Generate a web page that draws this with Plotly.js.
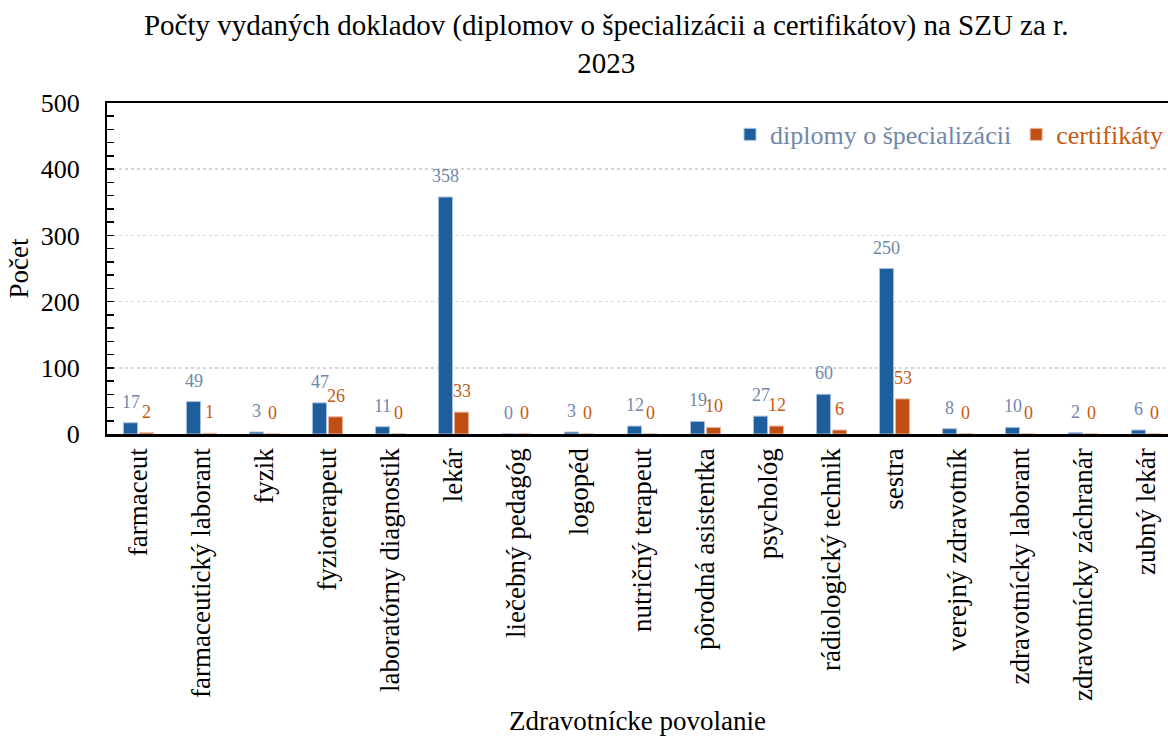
<!DOCTYPE html>
<html>
<head>
<meta charset="utf-8">
<script src="https://cdn.plot.ly/plotly-3.0.1.min.js"></script>
<style>html,body{margin:0;padding:0;background:#fff}#chart{width:1168px;height:736px}</style>
</head>
<body>
<div id="chart"></div>
<script>
const categories = ["farmaceut","farmaceutický laborant","fyzik","fyzioterapeut","laboratórny diagnostik","lekár","liečebný pedagóg","logopéd","nutričný terapeut","pôrodná asistentka","psychológ","rádiologický technik","sestra","verejný zdravotník","zdravotnícky laborant","zdravotnícky záchranár","zubný lekár"];
const diplomy = [17,49,3,47,11,358,0,3,12,19,27,60,250,8,10,2,6];
const certifikaty = [2,1,0,26,0,33,0,0,0,10,12,6,53,0,0,0,0];
const seriesNames = ["diplomy o špecializácii","certifikáty"];
const yTicks = [0,100,200,300,400,500];

const FONT = "Liberation Serif, Times New Roman, serif";
const BLUE = "#1F5E9C", ORANGE = "#C04F15";
const BLUE_TXT = "#7187AA", ORANGE_TXT = "#C55A11";

const traces = [
  {type:'bar', x:categories, y:diplomy,
   name:'<span style="color:'+BLUE_TXT+'">'+seriesNames[0]+'</span>',
   marker:{color:BLUE, line:{color:'#a9c2df', width:1}}, hoverinfo:'x+y'},
  {type:'bar', x:categories, y:certifikaty,
   name:'<span style="color:'+ORANGE_TXT+'">'+seriesNames[1]+'</span>',
   marker:{color:ORANGE, line:{color:'#eab79a', width:1}}, hoverinfo:'x+y'}
];

function labelAnns(vals, shiftX, color) {
  return categories.map((c, i) => ({
    x: c, y: vals[i], xref:'x', yref:'y', text: String(vals[i]),
    showarrow:false, xanchor:'center', yanchor:'bottom', xshift:shiftX, yshift:9,
    font:{family:FONT, size:18, color:color}
  }));
}

const layout = {
  width:1168, height:736,
  margin:{l:107, r:0, t:103, b:302},
  paper_bgcolor:'#fff', plot_bgcolor:'#fff',
  font:{family:FONT, size:26, color:'#000'},
  title:{text:'Počty vydaných dokladov (diplomov o špecializácii a certifikátov) na SZU za r.<br>2023',
         font:{family:FONT, size:29, color:'#000'}, x:0.519, xanchor:'center', xref:'container',
         y:0.952, yanchor:'top', yref:'container'},
  barmode:'group', bargap:0.49, bargroupgap:0.12,
  showlegend:true,
  legend:{orientation:'h', x:1, xanchor:'right', y:0.905, yanchor:'middle',
          font:{family:FONT, size:26}, bgcolor:'rgba(0,0,0,0)', traceorder:'normal'},
  xaxis:{type:'category', range:[-0.5,16.34], showline:true, linecolor:'#000', linewidth:2.5, mirror:true,
         showgrid:false, ticks:'', tickangle:-90, tickfont:{family:FONT, size:27, color:'#000'},
         ticklabelstandoff:1,
         title:{text:'Zdravotnícke povolanie', font:{family:FONT, size:27, color:'#000'}, standoff:16}},
  yaxis:{range:[0,500], tickvals:yTicks, ticktext:yTicks.map(String), showline:true, linecolor:'#000', linewidth:2,
         ticks:'inside', ticklen:7, tickcolor:'#000', tickwidth:1.5,
         minor:{dtick:20, ticks:'inside', ticklen:7, tickcolor:'#000', tickwidth:1.5, showgrid:false},
         showgrid:true, gridcolor:'#d6d6d6', griddash:'dot', gridwidth:1.5, zeroline:false,
         tickfont:{family:FONT, size:26, color:'#000'}, ticklabelstandoff:20,
         title:{text:'Počet', font:{family:FONT, size:27, color:'#000'}, standoff:4}},
  annotations: labelAnns(diplomy, -8, BLUE_TXT).concat(labelAnns(certifikaty, 8, ORANGE_TXT))
};

Plotly.newPlot('chart', traces, layout, {displayModeBar:false, staticPlot:true});
</script>
</body>
</html>
